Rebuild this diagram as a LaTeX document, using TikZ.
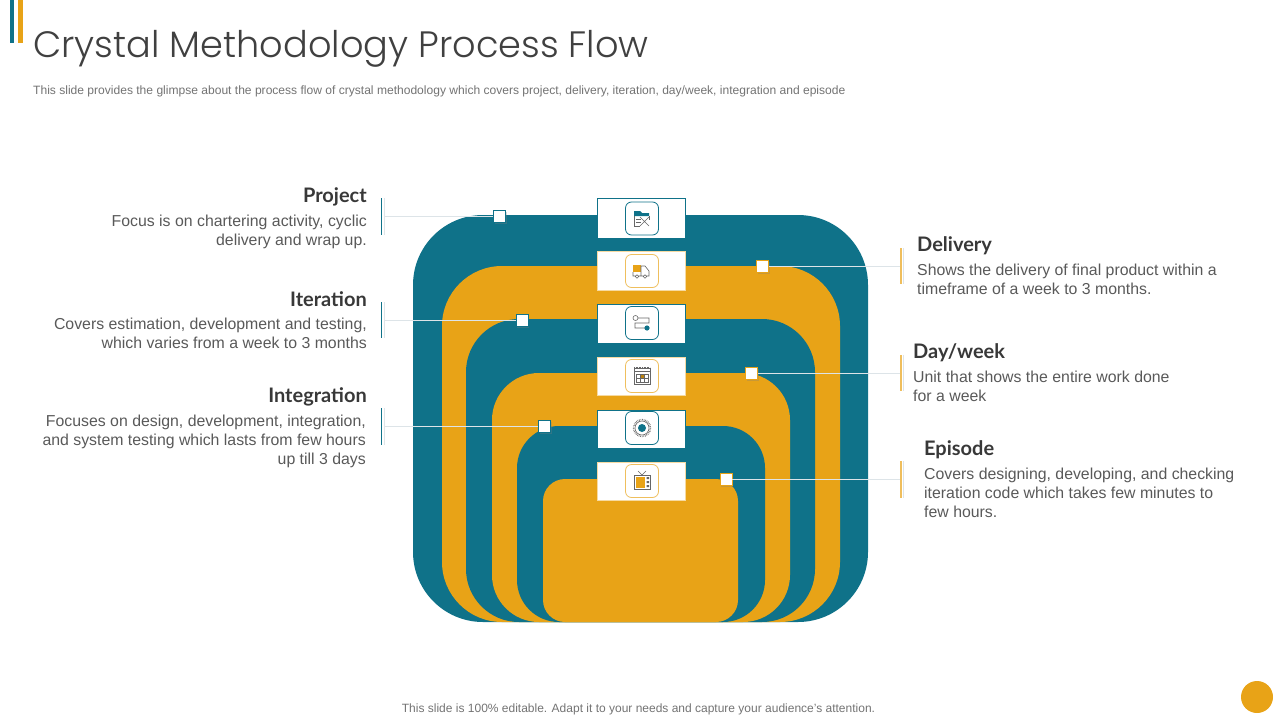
\documentclass[tikz,border=0pt]{standalone}
\usepackage{fontspec}
\setmainfont{Liberation Sans}
\newfontfamily\titlefont{Poppins Light}
\newfontfamily\headfont{Lato}
\usetikzlibrary{shadows}
\definecolor{tealc}{HTML}{0F7289}
\definecolor{goldc}{HTML}{E8A317}
\definecolor{txtc}{HTML}{595959}
\definecolor{linkc}{HTML}{DDE4E8}
\begin{document}
\begin{tikzpicture}[x=1pt, y=-1pt,
    tab/.style ={draw=#1, line width=0.7pt, fill=white, minimum width=88pt, inner sep=0pt},
    iconbox/.style ={draw=#1, line width=0.8pt, fill=white, rounded corners=6pt, minimum width=33pt, minimum height=33pt, inner sep=0pt},
    marker/.style ={draw=#1, line width=0.6pt, fill=white, minimum width=12pt, minimum height=12pt, inner sep=0pt, drop shadow={shadow xshift=1pt, shadow yshift=-1.5pt, opacity=0.3}},
    head/.style ={font=\headfont\bfseries\fontsize{20}{20}\selectfont, text=black!78, inner sep=0pt},
    bodyleft/.style ={font=\fontsize{15.85}{19}\selectfont, text=txtc, align=right, anchor=north east, inner sep=0pt},
    bodyright/.style ={font=\fontsize{15.85}{19}\selectfont, text=txtc, align=left, anchor=north west, inner sep=0pt},
    link/.style ={draw=linkc, line width=1pt},
    pic line/.style ={draw=black!60, line width=0.6pt}]
   \useasboundingbox (0,0) rectangle (1280,720);
   \fill[tealc] (10,0) rectangle (14,43);
   \fill[goldc] (18,0) rectangle (23,43);
   \node[anchor=west, inner sep=0pt, text=black!75, font=\titlefont\fontsize{36.7}{37}\selectfont] (title) at (33,49) {Crystal Methodology Process Flow};
   \node[anchor=west, inner sep=0pt, text=black!55, font=\fontsize{12.06}{12}\selectfont] (sub) at (33,91.5) {This slide provides the glimpse about the process flow of crystal methodology which covers project, delivery, iteration, day/week, integration and episode};
   \node[inner sep=0pt, text=black!55, font=\fontsize{12}{12}\selectfont] (foot) at (638.5,709.5) {This slide is 100\% editable. Adapt it to your needs and capture your audience's attention.};
   \fill[goldc] (1257,697) circle (16);

   \fill[tealc, rounded corners=70pt] (413,215) rectangle (868,622);
   \fill[goldc, rounded corners=60pt] (442,266) rectangle (840,622);
   \fill[tealc, rounded corners=53pt] (466,319) rectangle (815,622);
   \fill[goldc, rounded corners=47pt] (492,373) rectangle (790,622);
   \fill[tealc, rounded corners=42pt] (517,426) rectangle (765,622);
   \fill[goldc, rounded corners=22pt] (543,479) rectangle (738,622);

   \coordinate (projectEnd) at (384,216.5);
   \coordinate (iterationEnd) at (384,320.5);
   \coordinate (integrationEnd) at (384,426.5);
   \coordinate (deliveryEnd) at (900,266.5);
   \coordinate (dayweekEnd) at (900,373.5);
   \coordinate (episodeEnd) at (900,479.5);
   \node[marker=tealc] (projectMark) at (499.5,216.5) {};
   \node[marker=goldc] (deliveryMark) at (762.5,266.5) {};
   \node[marker=tealc] (iterationMark) at (522,320.5) {};
   \node[marker=goldc] (dayweekMark) at (751.5,373.5) {};
   \node[marker=tealc] (integrationMark) at (544.5,426.5) {};
   \node[marker=goldc] (episodeMark) at (726,479.5) {};
   \draw[link] (projectEnd) to (projectMark);
   \draw[link] (iterationEnd) to (iterationMark);
   \draw[link] (integrationEnd) to (integrationMark);
   \draw[link] (deliveryEnd) to (deliveryMark);
   \draw[link] (dayweekEnd) to (dayweekMark);
   \draw[link] (episodeEnd) to (episodeMark);

   \draw[tealc, line width=1.2pt] (381.5,198) -- (381.5,235);
   \draw[linkc, line width=0.8pt] (384,198) -- (384,235);
   \draw[tealc, line width=1.2pt] (381.5,302) -- (381.5,338);
   \draw[linkc, line width=0.8pt] (384,302) -- (384,338);
   \draw[tealc, line width=1.2pt] (381.5,408) -- (381.5,445);
   \draw[linkc, line width=0.8pt] (384,408) -- (384,445);
   \draw[goldc!70, line width=1.2pt] (901,248) -- (901,284);
   \draw[linkc, line width=0.8pt] (903.5,248) -- (903.5,284);
   \draw[goldc!70, line width=1.2pt] (901,355) -- (901,391);
   \draw[linkc, line width=0.8pt] (903.5,355) -- (903.5,391);
   \draw[goldc!70, line width=1.2pt] (901,461) -- (901,498);
   \draw[linkc, line width=0.8pt] (903.5,461) -- (903.5,498);

   \node[tab=tealc, minimum height=40pt] (projectTab) at (641.7,218) {};
   \node[tab=goldc!40, minimum height=39pt] (deliveryTab) at (641.7,270.5) {};
   \node[tab=tealc, minimum height=39pt] (iterationTab) at (641.7,323.5) {};
   \node[tab=goldc!40, minimum height=38pt] (dayweekTab) at (641.7,376) {};
   \node[tab=tealc, minimum height=38pt] (integrationTab) at (641.7,429) {};
   \node[tab=goldc!40, minimum height=38pt] (episodeTab) at (641.7,481) {};

   \node[iconbox=tealc] (projectIcon) at (642,218.5) {};
   \node[iconbox=goldc!70] (deliveryIcon) at (642,271) {};
   \node[iconbox=tealc] (iterationIcon) at (642,323) {};
   \node[iconbox=goldc!70] (dayweekIcon) at (642,376) {};
   \node[iconbox=tealc] (integrationIcon) at (642,428) {};
   \node[iconbox=goldc!70] (episodeIcon) at (642,481) {};

   \fill[tealc] (634,211) -- (640,211) -- (642,213) -- (649,213) -- (649,216) -- (634,216) -- cycle;
   \draw[pic line] (634,216) -- (634,226) -- (640,226) (649,216) -- (649,220);
   \draw[pic line] (636,219) -- (641,219) (636,222) -- (641,222);
   \draw[pic line] (640,226) -- (649,217) (640,217) -- (649,226);

   \fill[goldc] (633,265) rectangle (641,272);
   \draw[pic line] (633,272) -- (633,276) -- (649,276) -- (649,271) -- (645,266) -- (641,266) -- (641,276);
   \draw[pic line, fill=white] (637,276.5) circle (1.8) (645,276.5) circle (1.8);

   \draw[pic line] (635.5,318) circle (2.5) (638,318) -- (649,318) -- (649,323) -- (635,323) -- (635,328) -- (645,328);
   \fill[tealc] (647,328) circle (2.6);

   \draw[pic line] (634,368) rectangle (650,384) (634,371.5) -- (650,371.5);
   \draw[pic line, densely dotted] (634,367) -- (650,367);
   \fill[goldc!80!black] (640,374) rectangle (644,378);
   \draw[pic line] (636,374) rectangle (648,382) (640,374) -- (640,382) (644,374) -- (644,382) (636,378) -- (648,378);

   \draw[pic line, densely dotted, line width=1.4pt] (642,428) circle (8.5);
   \draw[pic line] (642,428) circle (7);
   \fill[tealc] (642,428) circle (4);

   \draw[pic line, fill=white] (634,475) rectangle (650,489);
   \fill[goldc] (635.5,476.5) rectangle (645,487.5);
   \draw[pic line] (638,471) -- (642,475) -- (646,471);
   \fill[black!60] (646.5,477) rectangle (649,479) (646.5,481) rectangle (649,483) (646.5,485) rectangle (649,487);

   \node[head, anchor=east] (projectHead) at (367,197) {Project};
   \node[bodyleft] (projectText) at (367,215) {Focus is on chartering activity, cyclic\\delivery and wrap up.};
   \node[head, anchor=east] (iterationHead) at (367,299) {Iteration};
   \node[bodyleft] (iterationText) at (367,318) {Covers estimation, development and testing,\\which varies from a week to 3 months};
   \node[head, anchor=east] (integrationHead) at (367,397) {Integration};
   \node[bodyleft] (integrationText) at (366,415) {Focuses on design, development, integration,\\and system testing which lasts from few hours\\up till 3 days};
   \node[head, anchor=west] (deliveryHead) at (917,246) {Delivery};
   \node[bodyright] (deliveryText) at (917,264) {Shows the delivery of final product within a\\timeframe of a week to 3 months.};
   \node[head, anchor=west] (dayweekHead) at (913,353) {Day/week};
   \node[bodyright] (dayweekText) at (913,371) {Unit that shows the entire work done\\for a week};
   \node[head, anchor=west] (episodeHead) at (924,450) {Episode};
   \node[bodyright] (episodeText) at (924,468) {Covers designing, developing, and checking\\iteration code which takes few minutes to\\few hours.};
\end{tikzpicture}
\end{document}
